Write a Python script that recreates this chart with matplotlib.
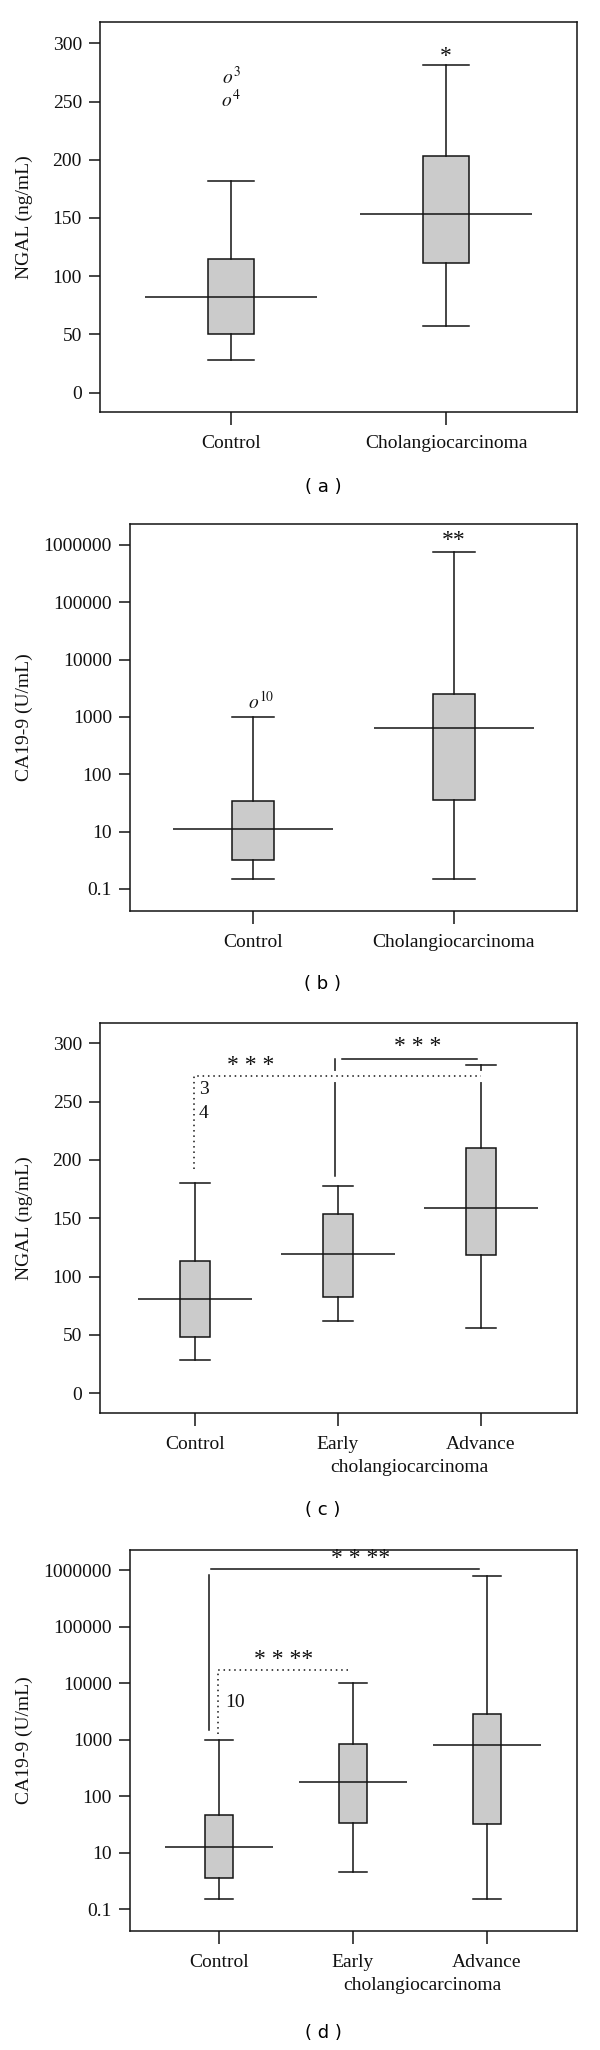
import matplotlib
matplotlib.use("Agg")
import matplotlib.pyplot as plt
from matplotlib.ticker import NullLocator

plt.rcParams["font.family"] = ["Liberation Serif", "DejaVu Serif"]
plt.rcParams["mathtext.fontset"] = "stix"

# (a) NGAL (ng/mL): control vs cholangiocarcinoma
a_groups = ["Control", "Cholangiocarcinoma"]
a_whislo = [28, 57]
a_q1 = [50, 111]
a_med = [82, 153]
a_q3 = [115, 203]
a_whishi = [182, 281]

# (b) CA19-9 (U/mL), values on the plotted log axis
b_groups = ["Control", "Cholangiocarcinoma"]
b_whislo = [1.5, 1.5]
b_q1 = [3.2, 36]
b_med = [11, 630]
b_q3 = [34, 2550]
b_whishi = [1000, 750000]

# (c) NGAL by stage
c_groups = ["Control", "Early", "Advance"]
c_whislo = [28.6, 62, 56.3]
c_q1 = [48.6, 82.9, 118.6]
c_med = [81, 119.5, 158.5]
c_q3 = [113.5, 153.5, 210.5]
c_whishi = [180.5, 177.5, 281.5]

# (d) CA19-9 by stage
d_groups = ["Control", "Early", "Advance"]
d_whislo = [1.5, 4.6, 1.55]
d_q1 = [3.6, 33, 32]
d_med = [12.7, 180, 820]
d_q3 = [46, 830, 2800]
d_whishi = [1000, 10000, 770000]

log_ticks = [1, 10, 100, 1000, 10000, 100000, 1000000]
log_ticklabels = ["0.1", "10", "100", "1000", "10000", "100000", "1000000"]

LINE = "#141414"
TXT = "#111111"
FILL = "#cbcbcb"
STAR = 17


def draw_boxes(ax, whislo, q1, med, q3, whishi):
    pos = list(range(1, len(med) + 1))
    stats = [dict(whislo=lo, q1=a, med=m, q3=b, whishi=hi, fliers=[])
             for lo, a, m, b, hi in zip(whislo, q1, med, q3, whishi)]
    ax.bxp(stats, positions=pos, widths=0.21, capwidths=0.21,
           patch_artist=True, showfliers=False,
           boxprops=dict(facecolor=FILL, edgecolor=LINE, linewidth=1.1),
           whiskerprops=dict(color=LINE, linewidth=1.1),
           capprops=dict(color=LINE, linewidth=1.1),
           medianprops=dict(visible=False))
    # the median line runs well past the box
    ax.hlines(med, [p - 0.4 for p in pos], [p + 0.4 for p in pos],
              color=LINE, linewidth=1.1, zorder=3)


def style(ax, groups, ylabel, labx):
    for s in ax.spines.values():
        s.set_linewidth(1.1)
        s.set_color(LINE)
    ax.set_xticks(range(1, len(groups) + 1))
    ax.set_xticklabels(groups)
    ax.tick_params(axis="x", length=9, width=1.1, pad=7.5, labelsize=14,
                   color=LINE, labelcolor=TXT)
    ax.tick_params(axis="y", length=8, width=1.1, pad=5, labelsize=14,
                   color=LINE, labelcolor=TXT)
    ax.set_ylabel(ylabel, fontsize=14, color=TXT)
    ax.yaxis.set_label_coords(labx, 0.5)


def set_log(ax, lo, hi):
    ax.set_yscale("log")
    ax.set_ylim(lo, hi)
    ax.set_yticks(log_ticks)
    ax.set_yticklabels(log_ticklabels)
    ax.yaxis.set_minor_locator(NullLocator())


fig = plt.figure(figsize=(6, 20.5), dpi=100)
H = 2050.0


def axes_px(x0, x1, y0, y1):
    return fig.add_axes([x0 / 600, 1 - y1 / H, (x1 - x0) / 600, (y1 - y0) / H])


# ---- (a)
ax = axes_px(100, 577, 22, 412)
draw_boxes(ax, a_whislo, a_q1, a_med, a_q3, a_whishi)
ax.set_xlim(0.391, 2.609)
ax.set_ylim(-16.6, 318.3)
ax.set_yticks([0, 50, 100, 150, 200, 250, 300])
style(ax, a_groups, "NGAL (ng/mL)", -0.14)
ax.text(1, 271, r"$o^{3}$", ha="center", va="center", fontsize=14, color=TXT)
ax.text(1, 251, r"$o^{4}$", ha="center", va="center", fontsize=14, color=TXT)
ax.text(2, 289, "*", ha="center", va="center", fontsize=STAR, color=TXT)

# ---- (b)
ax = axes_px(130, 577, 524, 911)
draw_boxes(ax, b_whislo, b_q1, b_med, b_q3, b_whishi)
ax.set_xlim(0.388, 2.612)
set_log(ax, 10 ** -0.384, 10 ** 6.366)
style(ax, b_groups, "CA19-9 (U/mL)", -0.217)
ax.text(1.043, 10 ** 3.27, r"$o^{10}$", ha="center", va="center", fontsize=14, color=TXT)
ax.text(2, 10 ** 6.08, "**", ha="center", va="center", fontsize=STAR, color=TXT)

# ---- (c)
ax = axes_px(100, 577, 1023, 1413)
draw_boxes(ax, c_whislo, c_q1, c_med, c_q3, c_whishi)
ax.set_xlim(0.336, 3.671)
ax.set_ylim(-16.9, 317.4)
ax.set_yticks([0, 50, 100, 150, 200, 250, 300])
style(ax, c_groups, "NGAL (ng/mL)", -0.14)
ax.text(2.5, -0.14, "cholangiocarcinoma", transform=ax.get_xaxis_transform(),
        ha="center", va="center", fontsize=14, color=TXT)
# control vs advance (dotted) and early vs advance (solid)
ax.plot([2.03, 2.97], [286.8, 286.8], color=LINE, lw=1.1)
ax.plot([1.98, 1.98], [286.8, 186.5], color=LINE, lw=1.1)
ax.plot([1.9, 3.1], [272.2, 272.2], color="white", lw=8, zorder=4)
ax.plot([0.99, 0.99, 3.0], [192, 272.2, 272.2], color=LINE, lw=1.1,
        linestyle=(0, (1, 2.5)), zorder=5)
ax.text(1.39, 281, "* * *", ha="center", va="center", fontsize=STAR, color=TXT)
ax.text(2.56, 297, "* * *", ha="center", va="center", fontsize=STAR, color=TXT)
ax.text(1.06, 260.8, "3", ha="center", va="center", fontsize=14, color=TXT)
ax.text(1.06, 240, "4", ha="center", va="center", fontsize=14, color=TXT)

# ---- (d)
ax = axes_px(130, 577, 1550, 1931)
draw_boxes(ax, d_whislo, d_q1, d_med, d_q3, d_whishi)
ax.set_xlim(0.336, 3.672)
set_log(ax, 10 ** -0.384, 10 ** 6.354)
style(ax, d_groups, "CA19-9 (U/mL)", -0.217)
ax.text(2.52, -0.143, "cholangiocarcinoma", transform=ax.get_xaxis_transform(),
        ha="center", va="center", fontsize=14, color=TXT)
ax.plot([0.94, 2.94], [10 ** 6.017, 10 ** 6.017], color=LINE, lw=1.1)
ax.plot([0.925, 0.925], [10 ** 5.91, 10 ** 3.17], color=LINE, lw=1.1)
ax.plot([0.99, 0.99, 1.964], [10 ** 3.10, 10 ** 4.23, 10 ** 4.23], color=LINE,
        lw=1.1, linestyle=(0, (1, 2.5)))
ax.text(2.06, 10 ** 6.2, "* * **", ha="center", va="center", fontsize=STAR, color=TXT)
ax.text(1.48, 10 ** 4.42, "* * **", ha="center", va="center", fontsize=STAR, color=TXT)
ax.text(1.05, 10 ** 3.65, "10", ha="left", va="center", fontsize=14, color=TXT)

# panel letters
for lab, yc in [("a", 487), ("b", 984), ("c", 1510), ("d", 2033)]:
    fig.text(323 / 600, 1 - yc / H, f"( {lab} )", ha="center", va="center",
             fontsize=13, family="DejaVu Sans", color="black")

fig.savefig("out.png", dpi=100)
